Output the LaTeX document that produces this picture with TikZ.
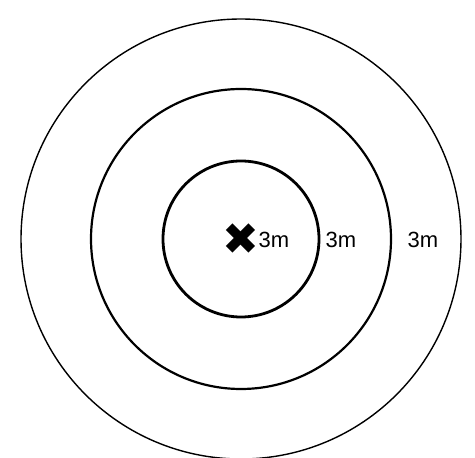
\documentclass[tikz,border=0pt]{standalone}
\usepackage{fontspec}
\setmainfont{Liberation Sans}
\newfontfamily\symfont{DejaVu Sans}

\begin{document}
\begin{tikzpicture}[x=1pt,y=1pt]
        \useasboundingbox (0,0) rectangle (475,458);
        
        \tikzstyle{ring}=[circle, draw=black, inner sep=0pt]
        \tikzstyle{dist}=[inner sep=0pt, font=\fontsize{22}{26}\selectfont]
        
        \coordinate (centre) at (241,219);
        
        \node [ring, line width=1.4pt, minimum size=440pt] (outer) at (centre) {};
        \node [ring, line width=2.2pt, minimum size=300pt] (middle) at (centre) {};
        \node [ring, line width=2.8pt, minimum size=156pt] (inner) at (centre) {};
        
        \node [inner sep=0pt] (spot) at(241,219) {\fontsize{44}{44}\selectfont\symfont ✖};
        
        \node [dist] (dinner) at(274,218) {3m};
        \node [dist] (dmiddle) at(341,218) {3m};
        \node [dist] (douter) at(423,218) {3m};
        
    \end{tikzpicture}
\end{document}
